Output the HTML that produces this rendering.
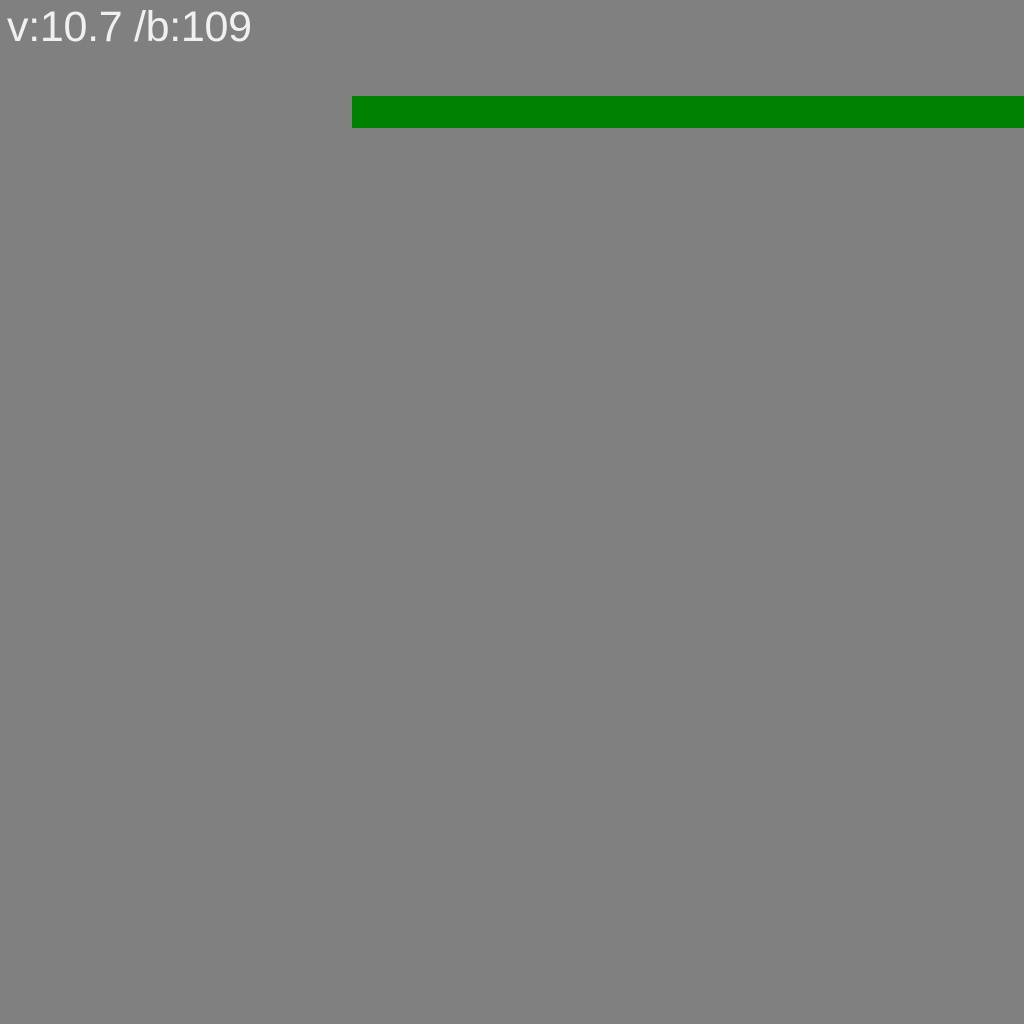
<!DOCTYPE html>
<html>
<head>
<meta charset="utf-8">
<style>
  html,body{margin:0;padding:0;}
  body{width:1024px;height:1024px;background:#808080;position:relative;overflow:hidden;font-family:"Liberation Sans",sans-serif;}
  #label{position:absolute;left:7px;top:3px;font-size:43px;letter-spacing:-0.3px;color:#f0f0f0;line-height:48px;white-space:nowrap;}
  svg{position:absolute;left:0;top:0;}
</style>
</head>
<body>
<div id="label">v:10.7 /b:109</div>
<svg id="chart" width="1024" height="1024"></svg>
<script>
const categories = ["v"];
const values = [10.7];
const xDomain = [-5.605, 10.7];
function x(v){ return (v - xDomain[0]) / (xDomain[1] - xDomain[0]) * 1024; }
const svg = document.getElementById('chart');
values.forEach((v, i) => {
  const r = document.createElementNS('http://www.w3.org/2000/svg', 'rect');
  
  
  const x0 = x(0);
  r.setAttribute('x', x0);
  r.setAttribute('y', 96 + i * 40);
  r.setAttribute('width', x(v) - x0);
  r.setAttribute('height', 32);
  r.setAttribute('fill', '#008000');
  svg.appendChild(r);
});
</script>
</body>
</html>
